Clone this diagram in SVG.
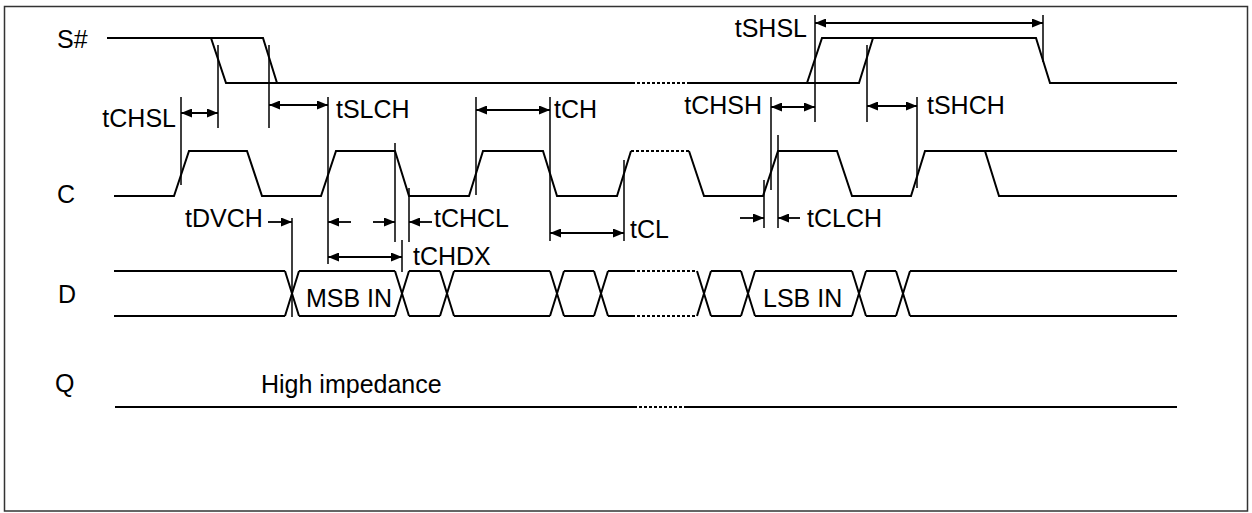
<svg xmlns="http://www.w3.org/2000/svg" width="1252" height="513" viewBox="0 0 1252 513">
<style>
.w{fill:none;stroke:#000;stroke-width:2;stroke-linejoin:miter}
.dot{fill:none;stroke:#000;stroke-width:2;stroke-dasharray:3,2}
.v{fill:none;stroke:#000;stroke-width:1.5}
.a{fill:none;stroke:#000;stroke-width:1.8}
.d{marker-start:url(#ah);marker-end:url(#ah)}
.s{marker-end:url(#ah)}
.lab{font-family:"Liberation Sans",Arial,sans-serif;font-size:25px;fill:#000}
.t{font-family:"Liberation Sans",Arial,sans-serif;font-size:25px;fill:#000}
</style>
<defs>
<marker id="ah" markerUnits="userSpaceOnUse" markerWidth="11" markerHeight="9" refX="11" refY="4.5" orient="auto-start-reverse">
<path d="M0,0 L11,4.5 L0,9 z" fill="#000"/>
</marker>
</defs>
<rect x="4.5" y="6.5" width="1243" height="504.5" fill="#fff" stroke="#333" stroke-width="1.5"/>

<g id="sig-S">
<text class="lab" x="57" y="48">S#</text>
<path class="w" d="M107,38 H263 L277,83"/>
<path class="w" d="M211,38 L226,83 H632"/>
<path class="dot" d="M632,83 H688"/>
<path class="w" d="M688,83 H859 L873,38"/>
<path class="w" d="M807,83 L822,38 H1036 L1050,83 H1177"/>
</g>

<g id="sig-C">
<text class="lab" x="57" y="203">C</text>
<path class="w" d="M114,196 H174 L189,151 H247 L262,196 H321 L336,151 H395 L409,196 H469 L483,151 H543 L557,196 H617 L631,151"/>
<path class="dot" d="M631,151 H689"/>
<path class="w" d="M689,151 L704,196 H763 L778,151 H837 L852,196 H911 L925,151 H985 L999,196 H1177"/>
<path class="w" d="M985,151 H1177"/>
</g>

<g id="sig-D">
<text class="lab" x="58" y="303">D</text>
<path class="w" d="M114,271 H285 M299,271 H395 M409,271 H440 M454,271 H550 M564,271 H594 M608,271 H632 M711,271 H741 M755,271 H852 M866,271 H896 M910,271 H1177"/>
<path class="w" d="M114,316 H285 M299,316 H395 M409,316 H440 M454,316 H550 M564,316 H594 M608,316 H632 M711,316 H741 M755,316 H852 M866,316 H896 M910,316 H1177"/>
<path class="dot" d="M632,271 H697 M632,316 H697"/>
<path class="w" d="M285,271 L299,316 M285,316 L299,271 M395,271 L409,316 M395,316 L409,271 M440,271 L454,316 M440,316 L454,271 M550,271 L564,316 M550,316 L564,271 M594,271 L608,316 M594,316 L608,271 M697,271 L711,316 M697,316 L711,271 M741,271 L755,316 M741,316 L755,271 M852,271 L866,316 M852,316 L866,271 M896,271 L910,316 M896,316 L910,271"/>
<text class="t" x="306" y="307">MSB IN</text>
<text class="t" x="763" y="307">LSB IN</text>
</g>

<g id="sig-Q">
<text class="lab" x="55" y="392">Q</text>
<path class="w" d="M115,407 H634"/>
<path class="dot" d="M634,407 H687"/>
<path class="w" d="M687,407 H1177"/>
<text class="t" x="261" y="393">High impedance</text>
</g>

<g id="connectors">
<g id="ref-lines">
<path class="v" d="M181,97 V185 M218,45 V128 M269,45 V128 M328,97 V264 M395,143 V242 M402,240 V272 M409,188 V242 M292,218 V317 M476,97 V195 M550,97 V241 M624,160 V241 M771,97 V190 M815,15 V122 M1043,15 V62 M867,45 V122 M917,97 V188 M764,180 V228 M778,135 V228"/>
</g>
<g id="tCHSL"><path class="a d" d="M181,113 H218"/><text class="t" x="176" y="127" text-anchor="end">tCHSL</text></g>
<g id="tSLCH"><path class="a d" d="M269,105 H328"/><text class="t" x="336" y="118">tSLCH</text></g>
<g id="tCH"><path class="a d" d="M476,110 H550"/><text class="t" x="554" y="118">tCH</text></g>
<g id="tCHSH"><path class="a d" d="M771,107 H815"/><text class="t" x="762" y="114" text-anchor="end">tCHSH</text></g>
<g id="tSHSL"><path class="a d" d="M815,23 H1043"/><text class="t" x="807" y="37" text-anchor="end">tSHSL</text></g>
<g id="tSHCH"><path class="a d" d="M867,106 H917"/><text class="t" x="927" y="114">tSHCH</text></g>
<g id="tDVCH"><path class="a s" d="M268,222 H292"/><text class="t" x="185" y="227">tDVCH</text></g>
<g id="tCHpair"><path class="a s" d="M351,222 H328"/><path class="a s" d="M373,222 H395"/></g>
<g id="tCHCL"><path class="a s" d="M432,222 H409"/><text class="t" x="434" y="227">tCHCL</text></g>
<g id="tCHDX"><path class="a d" d="M328,257 H402"/><text class="t" x="413" y="265">tCHDX</text></g>
<g id="tCL"><path class="a d" d="M550,233 H624"/><text class="t" x="630" y="238">tCL</text></g>
<g id="tCLCH"><path class="a s" d="M740,218 H764"/><path class="a s" d="M800,218 H778"/><text class="t" x="807" y="227">tCLCH</text></g>
</g>
</svg>
